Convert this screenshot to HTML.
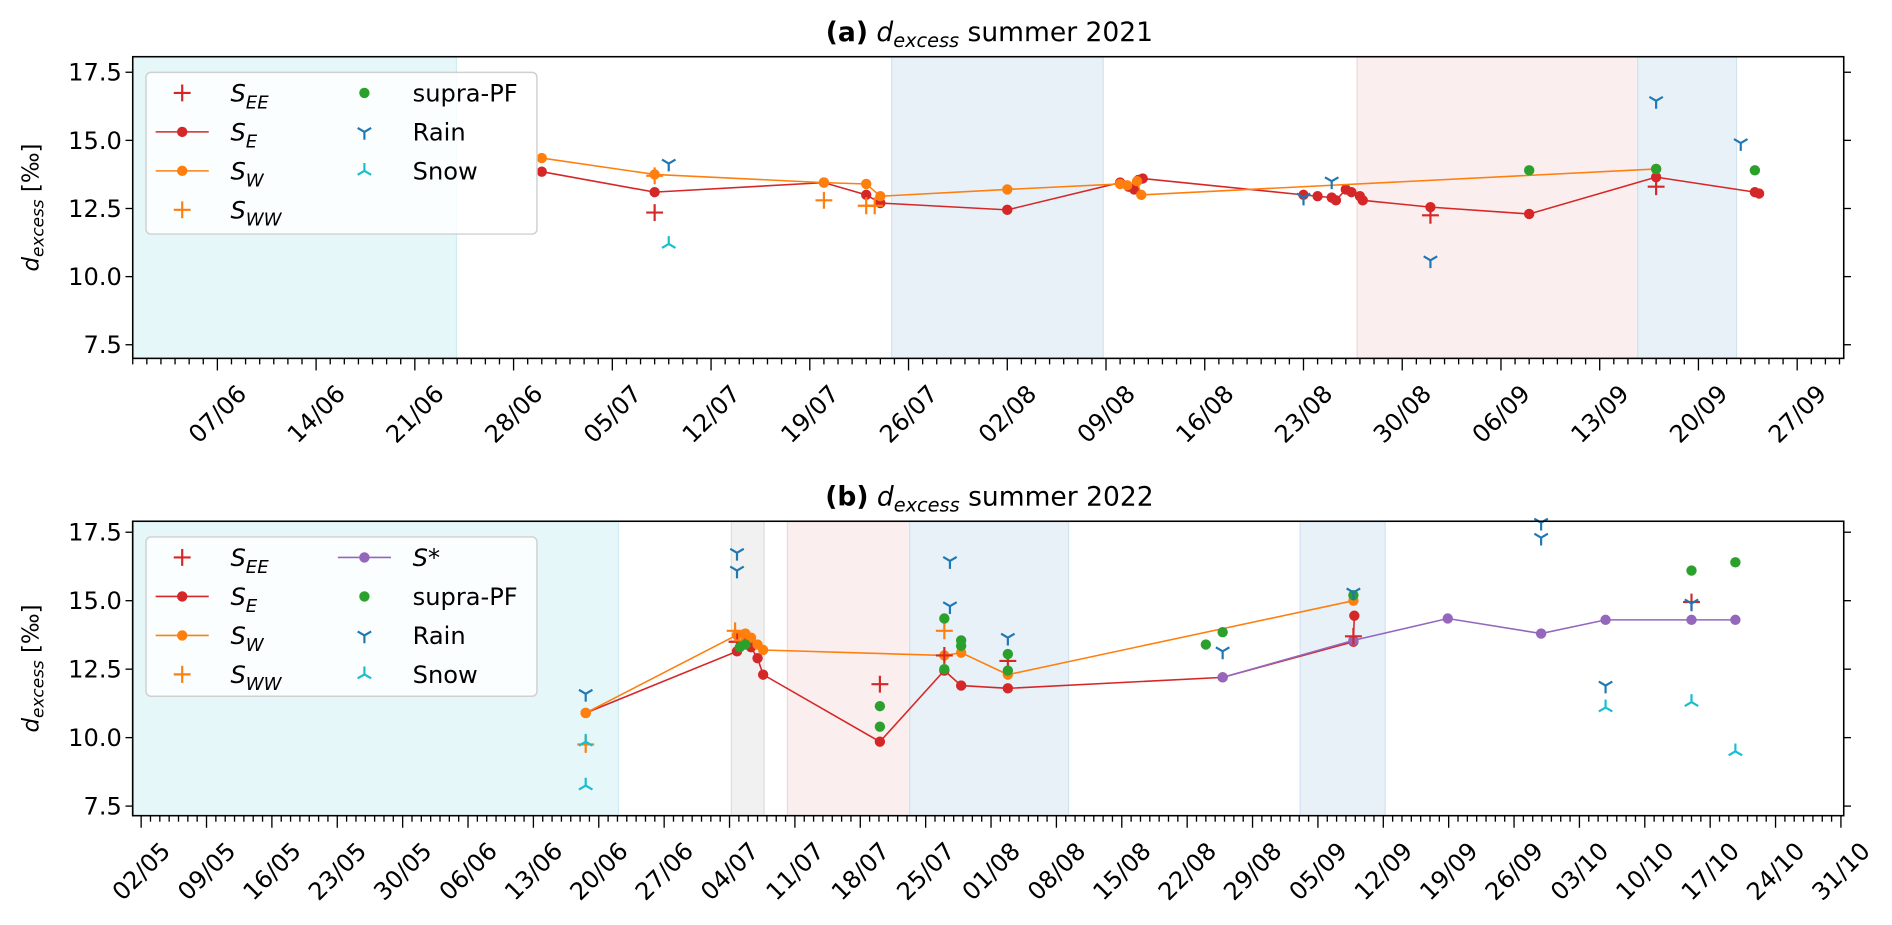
<!DOCTYPE html>
<html><head><meta charset="utf-8"><style>
html,body{margin:0;padding:0;background:#fff}
svg{display:block}
text{font-family:"DejaVu Sans","Liberation Sans",sans-serif;fill:#000}
</style></head><body>
<svg id="fig" xmlns="http://www.w3.org/2000/svg" width="1892" height="925" viewBox="0 0 1568 766.6"></svg>
<script>
// ---------- Panel (a) 2021 data ----------
const a_SE_dates=["2021-06-30","2021-07-08","2021-07-20","2021-07-23","2021-07-24","2021-08-02","2021-08-10","2021-08-10.6","2021-08-11","2021-08-11.3","2021-08-11.6","2021-08-23","2021-08-24","2021-08-25","2021-08-25.3","2021-08-26","2021-08-26.4","2021-08-27","2021-08-27.2","2021-09-01","2021-09-08","2021-09-17","2021-09-24","2021-09-24.3"];
const a_SE_vals=[13.85,13.1,13.45,13.0,12.7,12.45,13.45,13.3,13.2,13.55,13.6,13.0,12.95,12.9,12.8,13.2,13.1,12.95,12.8,12.55,12.3,13.65,13.1,13.05];
const a_SW_dates=["2021-06-30","2021-07-08","2021-07-20","2021-07-23","2021-07-24","2021-08-02","2021-08-10","2021-08-10.5","2021-08-11.2","2021-08-11.5","2021-09-17"];
const a_SW_vals=[14.35,13.75,13.45,13.4,12.95,13.2,13.4,13.35,13.5,13.0,13.95];
const a_SEE_dates=["2021-07-08","2021-09-01","2021-09-17"];
const a_SEE_vals=[12.35,12.25,13.3];
const a_SWW_dates=["2021-07-08","2021-07-20","2021-07-23","2021-07-23.6"];
const a_SWW_vals=[13.7,12.8,12.6,12.6];
const a_PF_dates=["2021-09-08","2021-09-17","2021-09-24"];
const a_PF_vals=[13.9,13.95,13.9];
const a_rain_dates=["2021-07-09","2021-08-23","2021-08-25","2021-09-01","2021-09-17","2021-09-23"];
const a_rain_vals=[14.15,12.9,13.5,10.6,16.45,14.9];
const a_snow_dates=["2021-07-09"];
const a_snow_vals=[11.2];
const a_spans=[["2021-06-01","2021-06-23.95","#e6f7f9","#cdeef3"],["2021-07-24.8","2021-08-08.8","#e8f1f8","#d2e3f0"],["2021-08-26.8","2021-09-15.7","#fbeeee","#f3d6d6"],["2021-09-15.7","2021-09-22.7","#e8f1f8","#d2e3f0"]];
// ---------- Panel (b) 2022 data ----------
const b_SE_dates=["2022-06-18.6","2022-07-04.8","2022-07-05.7","2022-07-06.3","2022-07-07.0","2022-07-07.6","2022-07-20.1","2022-07-27.0","2022-07-28.8","2022-08-02.8","2022-08-25.8","2022-09-08.8","2022-09-08.9"];
const b_SE_vals=[10.9,13.15,13.5,13.3,12.9,12.3,9.85,12.45,11.9,11.8,12.2,13.5,14.45];
const b_SW_dates=["2022-06-18.6","2022-07-04.8","2022-07-05.7","2022-07-06.3","2022-07-07.0","2022-07-07.6","2022-07-27.0","2022-07-28.8","2022-08-02.8","2022-09-08.8"];
const b_SW_vals=[10.9,13.75,13.8,13.65,13.4,13.2,13.0,13.1,12.3,15.0];
const b_SEE_dates=["2022-07-20.1","2022-07-04.8","2022-07-27.0","2022-08-02.8","2022-09-08.8","2022-10-15.0"];
const b_SEE_vals=[11.95,13.5,13.0,12.8,13.7,14.95];
const b_SWW_dates=["2022-06-18.6","2022-07-04.6","2022-07-05.4","2022-07-27.0"];
const b_SWW_vals=[9.75,13.9,13.55,13.9];
const b_Sstar_dates=["2022-08-25.8","2022-09-08.8","2022-09-18.9","2022-09-28.9","2022-10-05.8","2022-10-15.0","2022-10-19.7"];
const b_Sstar_vals=[12.2,13.55,14.35,13.8,14.3,14.3,14.3];
const b_PF_dates=["2022-07-05.1","2022-07-05.7","2022-07-20.1","2022-07-20.1","2022-07-27.0","2022-07-27.0","2022-07-28.8","2022-07-28.8","2022-08-02.8","2022-08-02.8","2022-08-24.0","2022-08-25.8","2022-09-08.8","2022-10-15.0","2022-10-19.7"];
const b_PF_vals=[13.3,13.4,11.15,10.4,14.35,12.5,13.35,13.55,13.05,12.45,13.4,13.85,15.2,16.1,16.4];
const b_rain_dates=["2022-06-18.6","2022-07-04.8","2022-07-04.8","2022-07-27.6","2022-07-27.6","2022-08-02.8","2022-08-25.8","2022-09-08.8","2022-09-28.9","2022-09-28.9","2022-10-05.8","2022-10-15.0"];
const b_rain_vals=[11.6,16.75,16.1,16.45,14.8,13.65,13.15,15.3,17.85,17.3,11.9,14.9];
const b_snow_dates=["2022-06-18.6","2022-06-18.6","2022-10-05.8","2022-10-15.0","2022-10-19.7"];
const b_snow_vals=[9.85,8.25,11.1,11.3,9.5];
const b_spans=[["2022-05-01","2022-06-22.1","#e6f7f9","#cdeef3"],["2022-07-04.2","2022-07-07.7","#f1f1f1","#dddddd"],["2022-07-10.2","2022-07-23.3","#fbeeee","#f3d6d6"],["2022-07-23.3","2022-08-09.3","#e8f1f8","#d2e3f0"],["2022-09-03.1","2022-09-12.2","#e8f1f8","#d2e3f0"]];
const yTicks=[7.5,10.0,12.5,15.0,17.5];

const NS="http://www.w3.org/2000/svg";
const svg=document.getElementById('fig');
const C={red:"#d62728",orange:"#ff7f0e",green:"#2ca02c",blue:"#1f77b4",cyan:"#17becf",purple:"#9467bd"};
function mk(tag,attrs,parent){const e=document.createElementNS(NS,tag);for(const k in attrs)e.setAttribute(k,attrs[k]);(parent||svg).appendChild(e);return e;}
function dnum(s){const p=s.split('-');const dd=parseFloat(p[2]);return Date.UTC(+p[0],+p[1]-1,Math.floor(dd))/86400000+(dd-Math.floor(dd));}

function panel(cfg){
  const g=mk('g',{});
  
  
  const L=110,R=1528,T=cfg.top,B=cfg.bottom;
  const x=d=>L+(dnum(d)-cfg.x0)*(R-L)/(cfg.x1-cfg.x0);
  const y=v=>B-(v-cfg.y0)*(B-T)/(cfg.y1-cfg.y0);
  cfg.spans.forEach(s=>{const r=mk('rect',{x:x(s[0]),y:T,width:x(s[1])-x(s[0]),height:B-T,fill:s[2],stroke:s[3],'stroke-width':1},g);
    });
  function line(dates,vals,col,nm){
    const pts=dates.map((d,i)=>x(d)+','+y(vals[i])).join(' ');
    const pl=mk('polyline',{points:pts,fill:'none',stroke:col,'stroke-width':1.3},g);
    
    dates.forEach((d,i)=>{const c=mk('circle',{cx:x(d),cy:y(vals[i]),r:4.3,fill:col},g);
      });
  }
  function dots(dates,vals,col,nm){dates.forEach((d,i)=>{const c=mk('circle',{cx:x(d),cy:y(vals[i]),r:4.3,fill:col},g);
    });}
  function plus(dates,vals,col,nm){dates.forEach((d,i)=>{const X=x(d),Y=y(vals[i]);
    const p=mk('path',{d:`M${X-7},${Y}H${X+7}M${X},${Y-7}V${Y+7}`,stroke:col,'stroke-width':1.8,fill:'none'},g);
    });}
  function tri(dates,vals,col,nm,down){dates.forEach((d,i)=>{const X=x(d),Y=y(vals[i]);const s=down?1:-1;
    const p=mk('path',{d:`M${X},${Y}V${Y+6.5*s}M${X},${Y}L${X-5.6},${Y-3.3*s}M${X},${Y}L${X+5.6},${Y-3.3*s}`,stroke:col,'stroke-width':1.8,fill:'none'},g);
    });}
  cfg.draw(line,dots,plus,tri);
  const fr=mk('rect',{x:L,y:T,width:R-L,height:B-T,fill:'none',stroke:'#000','stroke-width':1.3},g);
  
  yTicks.forEach(v=>{mk('line',{x1:L-6,x2:L,y1:y(v),y2:y(v),stroke:'#000','stroke-width':1.1},g);
    mk('line',{x1:R,x2:R+6,y1:y(v),y2:y(v),stroke:'#000','stroke-width':1.1},g);
    const t=mk('text',{x:L-9,y:y(v)+7,'text-anchor':'end','font-size':20},g);t.textContent=v.toFixed(1);
    });
  for(let d=Math.ceil(cfg.x0);d<=cfg.x1;d++){const X=L+(d-cfg.x0)*(R-L)/(cfg.x1-cfg.x0);
    const dt=new Date(d*86400000);const major=((d-cfg.m0)%7===0);
    mk('line',{x1:X,x2:X,y1:B,y2:B+(major?10:5),stroke:'#000','stroke-width':1.1},g);
    if(major){const lab=String(dt.getUTCDate()).padStart(2,'0')+'/'+String(dt.getUTCMonth()+1).padStart(2,'0');
      const cy=B+46;const t=mk('text',{x:X,y:cy+7,'text-anchor':'middle','font-size':20,transform:`rotate(-45 ${X} ${cy})`},g);
      t.textContent=lab;}}
  const tt=mk('text',{x:820,y:T-13,'text-anchor':'middle','font-size':22},g);
  tt.innerHTML=`<tspan font-weight="bold">${cfg.tag}</tspan> <tspan font-style="italic">d</tspan><tspan font-style="italic" font-size="16" dy="5">excess</tspan><tspan dy="-5"> summer ${cfg.year}</tspan>`;
  
  const cy=(T+B)/2;const yl=mk('text',{x:32,y:cy,'text-anchor':'middle','font-size':19,transform:`rotate(-90 32 ${cy})`},g);
  yl.innerHTML=`<tspan font-style="italic">d</tspan><tspan font-style="italic" font-size="14" dy="4">excess</tspan><tspan dy="-4"> [‰]</tspan>`;
  
  const lt=T+13;const lg=mk('g',{},g);
  mk('rect',{x:121,y:lt,width:324,height:cfg.legH,rx:4,fill:'#fff','fill-opacity':0.8,stroke:'#d0d0d0','stroke-width':1.2},lg);
  cfg.legend.forEach((r,i)=>{const col=i<4?0:1;const row=i<4?i:i-4;const mx=col?302:151;const tx=col?342:191;const Y=lt+17+row*32.3;
    const e=mk('g',{},lg);
    if(r.t==='line'){mk('line',{x1:mx-22,x2:mx+22,y1:Y,y2:Y,stroke:r.c,'stroke-width':1.3},e);mk('circle',{cx:mx,cy:Y,r:4.3,fill:r.c},e);}
    else if(r.t==='plus'){mk('path',{d:`M${mx-7},${Y}H${mx+7}M${mx},${Y-7}V${Y+7}`,stroke:r.c,'stroke-width':1.8},e);}
    else if(r.t==='dot'){mk('circle',{cx:mx,cy:Y,r:4.3,fill:r.c},e);}
    else{const s=r.t==='down'?1:-1;mk('path',{d:`M${mx},${Y}V${Y+6.5*s}M${mx},${Y}L${mx-5.6},${Y-3.3*s}M${mx},${Y}L${mx+5.6},${Y-3.3*s}`,stroke:r.c,'stroke-width':1.8,fill:'none'},e);}
    const t=mk('text',{x:tx,y:Y+7,'font-size':20},e);t.innerHTML=r.l;});
}
const S=(b,s)=>`<tspan font-style="italic">${b}</tspan><tspan font-style="italic" font-size="15" dy="6">${s}</tspan>`;
panel({name:'panel-a-2021',tag:'(a)',year:2021,top:47,bottom:297,y0:7.0,y1:18.07,x0:dnum("2021-06-01"),x1:dnum("2021-09-30.3"),m0:dnum("2021-06-07"),spans:a_spans,legH:134,
  legend:[{t:'plus',c:C.red,l:S('S','EE')},{t:'line',c:C.red,l:S('S','E')},{t:'line',c:C.orange,l:S('S','W')},{t:'plus',c:C.orange,l:S('S','WW')},{t:'dot',c:C.green,l:'supra-PF'},{t:'down',c:C.blue,l:'Rain'},{t:'up',c:C.cyan,l:'Snow'}],
  draw:(line,dots,plus,tri)=>{line(a_SE_dates,a_SE_vals,C.red,'s-e');line(a_SW_dates,a_SW_vals,C.orange,'s-w');plus(a_SEE_dates,a_SEE_vals,C.red,'s-ee');plus(a_SWW_dates,a_SWW_vals,C.orange,'s-ww');dots(a_PF_dates,a_PF_vals,C.green,'supra-pf');tri(a_rain_dates,a_rain_vals,C.blue,'rain',true);tri(a_snow_dates,a_snow_vals,C.cyan,'snow',false);}});
panel({name:'panel-b-2022',tag:'(b)',year:2022,top:432,bottom:676,y0:7.15,y1:17.9,x0:dnum("2022-05-02")-0.9,x1:dnum("2022-10-31")+0.3,m0:dnum("2022-05-02"),spans:b_spans,legH:132,
  legend:[{t:'plus',c:C.red,l:S('S','EE')},{t:'line',c:C.red,l:S('S','E')},{t:'line',c:C.orange,l:S('S','W')},{t:'plus',c:C.orange,l:S('S','WW')},{t:'line',c:C.purple,l:'<tspan font-style="italic">S</tspan>*'},{t:'dot',c:C.green,l:'supra-PF'},{t:'down',c:C.blue,l:'Rain'},{t:'up',c:C.cyan,l:'Snow'}],
  draw:(line,dots,plus,tri)=>{line(b_SE_dates,b_SE_vals,C.red,'s-e');line(b_SW_dates,b_SW_vals,C.orange,'s-w');line(b_Sstar_dates,b_Sstar_vals,C.purple,'s-star');plus(b_SEE_dates,b_SEE_vals,C.red,'s-ee');plus(b_SWW_dates,b_SWW_vals,C.orange,'s-ww');dots(b_PF_dates,b_PF_vals,C.green,'supra-pf');tri(b_rain_dates,b_rain_vals,C.blue,'rain',true);tri(b_snow_dates,b_snow_vals,C.cyan,'snow',false);}});
</script>
</body></html>
